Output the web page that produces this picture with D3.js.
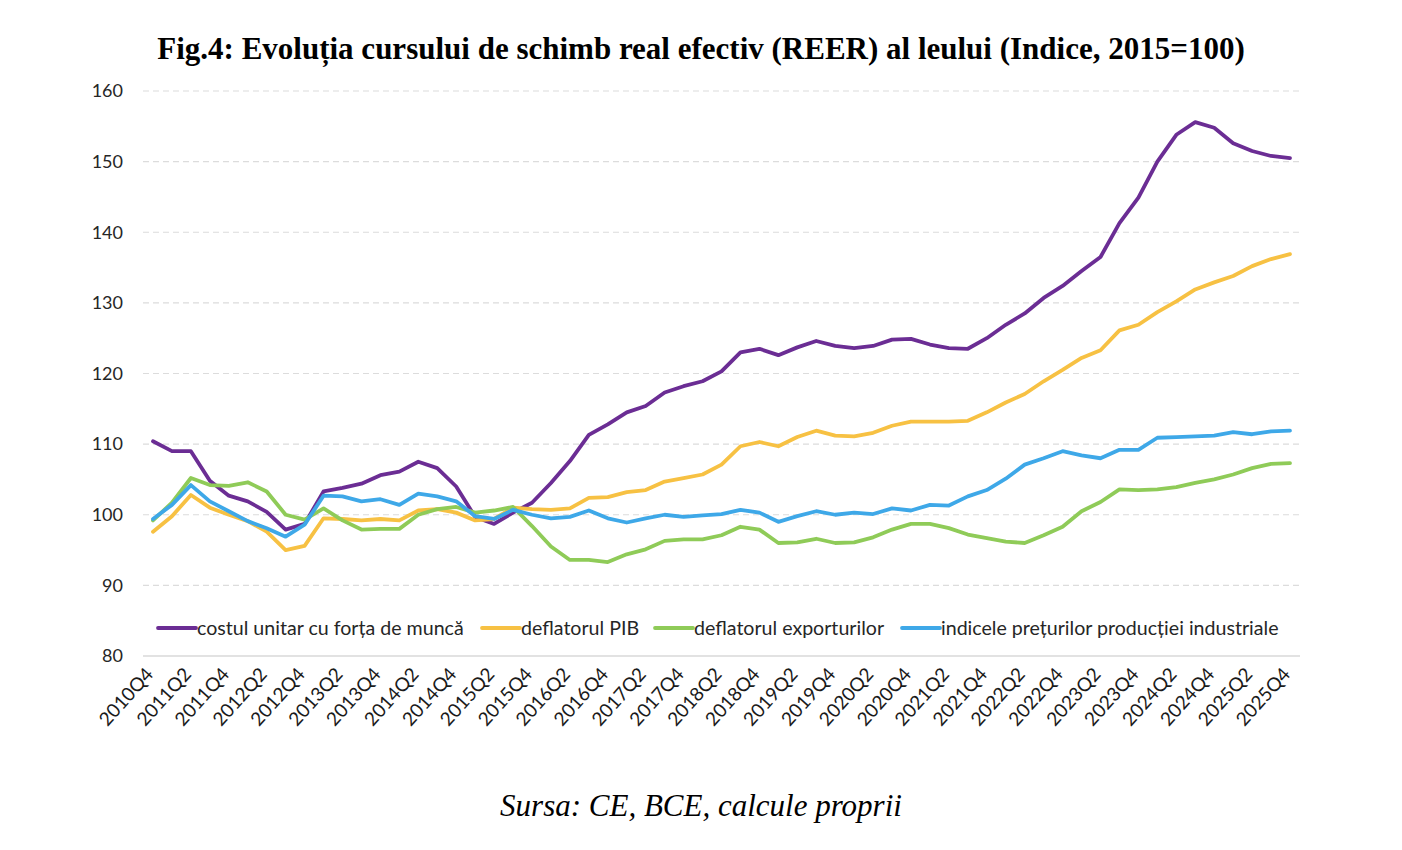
<!DOCTYPE html>
<html>
<head>
<meta charset="utf-8">
<script src="https://cdn.jsdelivr.net/npm/d3@7"></script>
<style>
  body { margin: 0; background: #fff; }
  .title { font-family: "Liberation Serif", "Times New Roman", serif; font-weight: bold; font-size: 31px; fill: #000; }
  .source { font-family: "Liberation Serif", "Times New Roman", serif; font-style: italic; font-size: 31px; fill: #000; }
  .y-axis .tick text { font-family: Lato, "Open Sans", sans-serif; font-size: 18px; fill: #262626; }
  .x-axis .tick text { font-family: Lato, "Open Sans", sans-serif; font-size: 19px; fill: #1a1a1a; }
  .legend text { font-family: Lato, "Open Sans", sans-serif; font-size: 19.6px; fill: #262626; }
</style>
</head>
<body>
<div id="chart"></div>
<script>
const quarters = [
  "2010Q4",
  "2011Q1", "2011Q2", "2011Q3", "2011Q4",
  "2012Q1", "2012Q2", "2012Q3", "2012Q4",
  "2013Q1", "2013Q2", "2013Q3", "2013Q4",
  "2014Q1", "2014Q2", "2014Q3", "2014Q4",
  "2015Q1", "2015Q2", "2015Q3", "2015Q4",
  "2016Q1", "2016Q2", "2016Q3", "2016Q4",
  "2017Q1", "2017Q2", "2017Q3", "2017Q4",
  "2018Q1", "2018Q2", "2018Q3", "2018Q4",
  "2019Q1", "2019Q2", "2019Q3", "2019Q4",
  "2020Q1", "2020Q2", "2020Q3", "2020Q4",
  "2021Q1", "2021Q2", "2021Q3", "2021Q4",
  "2022Q1", "2022Q2", "2022Q3", "2022Q4",
  "2023Q1", "2023Q2", "2023Q3", "2023Q4",
  "2024Q1", "2024Q2", "2024Q3", "2024Q4",
  "2025Q1", "2025Q2", "2025Q3", "2025Q4"
];

// costul unitar cu forta de munca
const ulc = [
  110.4,
  109.0, 109.0, 104.8, 102.7,
  101.9, 100.4, 97.9, 98.7,
  103.3, 103.8, 104.4, 105.6,
  106.1, 107.5, 106.6, 104.0,
  99.7, 98.7, 100.3, 101.7,
  104.5, 107.6, 111.3, 112.8,
  114.5, 115.4, 117.3, 118.2,
  118.9, 120.3, 123.0, 123.5,
  122.6, 123.7, 124.6, 123.9,
  123.6, 123.9, 124.8, 124.9,
  124.1, 123.6, 123.5, 125.0,
  126.9, 128.5, 130.7, 132.4,
  134.5, 136.5, 141.3, 144.9,
  150.0, 153.8, 155.6, 154.8,
  152.6, 151.5, 150.8, 150.5
];

// deflatorul PIB
const gdpDeflator = [
  97.6,
  99.8, 102.8, 101.0, 100.0,
  99.1, 97.6, 95.0, 95.6,
  99.5, 99.4, 99.2, 99.4,
  99.2, 100.6, 100.8, 100.3,
  99.2, 99.4, 101.0, 100.8,
  100.7, 100.9, 102.4, 102.5,
  103.2, 103.5, 104.7, 105.2,
  105.7, 107.1, 109.7, 110.3,
  109.7, 111.0, 111.9, 111.2,
  111.1, 111.6, 112.6, 113.2,
  113.2, 113.2, 113.3, 114.5,
  115.9, 117.1, 118.9, 120.5,
  122.2, 123.3, 126.1, 126.9,
  128.7, 130.2, 131.9, 132.9,
  133.8, 135.2, 136.2, 136.9
];

// deflatorul exporturilor
const exportDeflator = [
  99.2,
  101.7, 105.2, 104.2, 104.1,
  104.6, 103.3, 100.0, 99.3,
  100.9, 99.2, 97.9, 98.0,
  98.0, 100.0, 100.8, 101.1,
  100.3, 100.6, 101.1, 98.4,
  95.5, 93.6, 93.6, 93.3,
  94.4, 95.1, 96.3, 96.5,
  96.5, 97.1, 98.3, 97.9,
  96.0, 96.1, 96.6, 96.0,
  96.1, 96.8, 97.9, 98.7,
  98.7, 98.1, 97.2, 96.7,
  96.2, 96.0, 97.1, 98.3,
  100.5, 101.8, 103.6, 103.5,
  103.6, 103.9, 104.5, 105.0,
  105.7, 106.6, 107.2, 107.3
];

// indicele preturilor productiei industriale
const ppi = [
  99.4,
  101.4, 104.2, 101.9, 100.5,
  99.1, 98.1, 96.9, 98.6,
  102.7, 102.6, 101.9, 102.2,
  101.4, 103.0, 102.6, 101.9,
  99.8, 99.4, 100.7, 100.0,
  99.5, 99.7, 100.6, 99.5,
  98.9, 99.5, 100.0, 99.7,
  99.9, 100.1, 100.7, 100.3,
  99.0, 99.8, 100.5, 100.0,
  100.3, 100.1, 100.9, 100.6,
  101.4, 101.3, 102.6, 103.5,
  105.1, 107.1, 108.0, 109.0,
  108.4, 108.0, 109.2, 109.2,
  110.9, 111.0, 111.1, 111.2,
  111.7, 111.4, 111.8, 111.9
];

const yTicks = [80, 90, 100, 110, 120, 130, 140, 150, 160];

const series = [
  { name: "costul unitar cu forța de muncă", values: ulc, color: "#6b2d94" },
  { name: "deflatorul PIB", values: gdpDeflator, color: "#f7c143" },
  { name: "deflatorul exporturilor", values: exportDeflator, color: "#8fcb58" },
  { name: "indicele prețurilor producției industriale", values: ppi, color: "#3ea8e8" }
];

const W = 1402, H = 850;
const plot = { left: 143, right: 1300, top: 91, bottom: 656 };

const svg = d3.select("#chart").append("svg")
  .attr("width", W)
  .attr("height", H);

const x = d3.scalePoint()
  .domain(quarters)
  .range([153, 1290]);

const y = d3.scaleLinear()
  .domain([80, 160])
  .range([plot.bottom, plot.top]);

// gridlines
svg.append("g")
  .selectAll("line")
  .data(yTicks)
  .join("line")
  .attr("x1", plot.left)
  .attr("x2", plot.right)
  .attr("y1", d => y(d))
  .attr("y2", d => y(d))
  .attr("stroke", d => d === 80 ? "#d9d9d9" : "#dcdcdc")
  .attr("stroke-width", d => d === 80 ? 1.5 : 1.2)
  .attr("stroke-dasharray", d => d === 80 ? null : "6 4");

// y axis labels
const yAxis = svg.append("g")
  .attr("class", "y-axis")
  .attr("transform", `translate(${plot.left},0)`)
  .call(d3.axisLeft(y).tickValues(yTicks).tickSize(0).tickPadding(20));
yAxis.select(".domain").remove();

// x axis labels, every second quarter
const xAxis = svg.append("g")
  .attr("class", "x-axis")
  .attr("transform", `translate(0,${plot.bottom})`)
  .call(d3.axisBottom(x)
    .tickValues(quarters.filter((q, i) => i % 2 === 0))
    .tickSize(0));
xAxis.select(".domain").remove();
xAxis.selectAll("text")
  .attr("text-anchor", "end")
  .attr("dy", null)
  .attr("y", 0)
  .attr("transform", "translate(1,19) rotate(-48)");

// lines
const line = d3.line()
  .x((d, i) => x(quarters[i]))
  .y(d => y(d));

svg.append("g")
  .selectAll("path")
  .data(series)
  .join("path")
  .attr("fill", "none")
  .attr("stroke", d => d.color)
  .attr("stroke-width", 3.8)
  .attr("stroke-linejoin", "round")
  .attr("stroke-linecap", "round")
  .attr("d", d => line(d.values));

// legend
const legendX = [158, 482, 655, 902];
const legend = svg.append("g").attr("class", "legend");
series.forEach((s, i) => {
  const g = legend.append("g").attr("transform", `translate(${legendX[i]},628)`);
  g.append("line")
    .attr("x1", 0).attr("x2", 38)
    .attr("y1", 0).attr("y2", 0)
    .attr("stroke", s.color)
    .attr("stroke-width", 3.8)
    .attr("stroke-linecap", "round");
  g.append("text")
    .attr("x", 39)
    .attr("y", 7)
    .text(s.name);
});

svg.append("text")
  .attr("class", "title")
  .attr("x", 701)
  .attr("y", 59)
  .attr("text-anchor", "middle")
  .text("Fig.4: Evoluția cursului de schimb real efectiv (REER) al leului (Indice, 2015=100)");

svg.append("text")
  .attr("class", "source")
  .attr("x", 701)
  .attr("y", 816)
  .attr("text-anchor", "middle")
  .text("Sursa: CE, BCE, calcule proprii");
</script>
</body>
</html>
